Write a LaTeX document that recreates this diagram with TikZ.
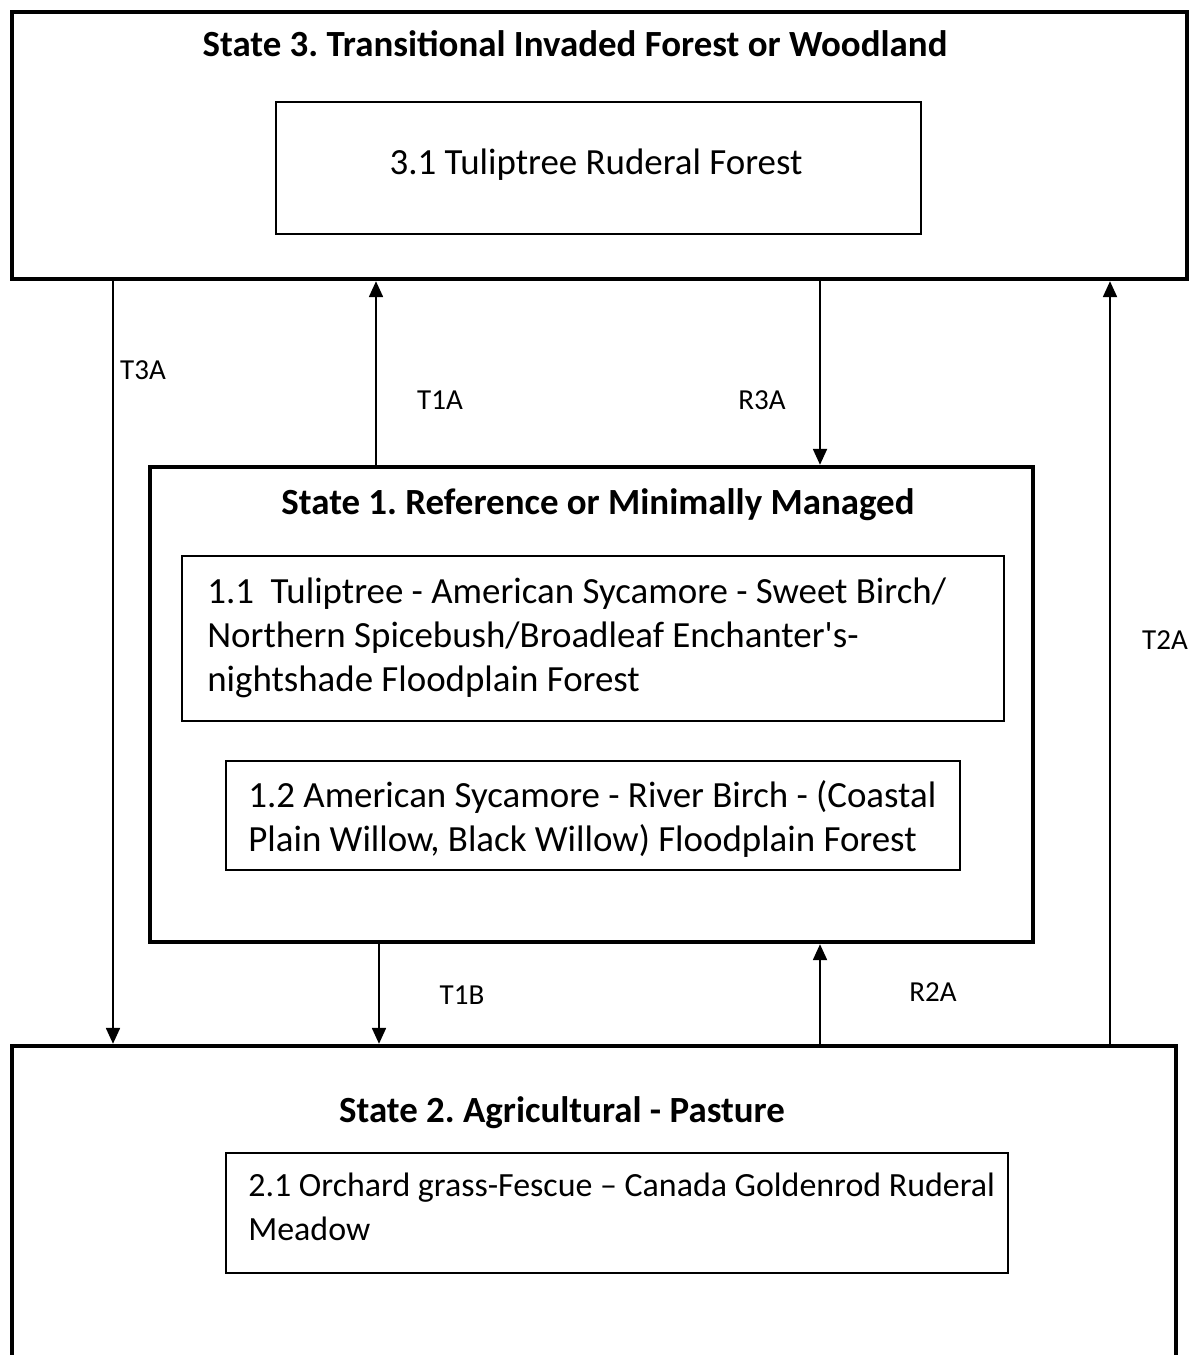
\documentclass[tikz,border=0pt]{standalone}
\usepackage{fontspec}
\setmainfont{Carlito}
\usetikzlibrary{arrows.meta}
\frenchspacing
\begin{document}
\begin{tikzpicture}[x=0.02cm,y=-0.02cm]

    \tikzset{
      statebox/.style={
        draw,
        line width=2.6pt,
        inner sep=0pt,
      },
      phasebox/.style={
        draw,
        line width=0.9pt,
        inner sep=0pt,
      },
      boxtitle/.style={font=\fontsize{21}{25}\selectfont\bfseries},
      boxtext/.style={font=\fontsize{21}{25}\selectfont, align=left, inner sep=0pt},
      pathlabel/.style={font=\fontsize{16.5}{19}\selectfont},
      trans/.style={line width=0.9pt, -{Triangle[length=9pt,width=8pt]}},
    }
    \useasboundingbox (0,0) rectangle (1192,1355);

    % state 3
    \node[statebox, minimum width=23.5cm, minimum height=5.34cm] (s3) at (599.5,145.5) {};
    \node[boxtitle] (s3title) at (575,44) {State 3. Transitional Invaded Forest or Woodland};
    \node[phasebox, minimum width=12.9cm, minimum height=2.64cm] (p31) at (598.5,168) {};
    \node[boxtext] (p31text) at (596,165) {3.1 Tuliptree Ruderal Forest};

    % state 1
    \node[statebox, minimum width=17.66cm, minimum height=9.5cm] (s1) at (591.5,704.5) {};
    \node[boxtitle] (s1title) at (598,505) {State 1. Reference or Minimally Managed};
    \node[phasebox, minimum width=16.44cm, minimum height=3.3cm] (p11) at (593,638.5) {};
    \node[boxtext, anchor=west] (p11text) at (207,638) {1.1\ \ Tuliptree - American Sycamore - Sweet Birch/\\Northern Spicebush/Broadleaf Enchanter\textquotesingle s-\\nightshade Floodplain Forest};
    \node[phasebox, minimum width=14.68cm, minimum height=2.18cm] (p12) at (593,815.5) {};
    \node[boxtext, anchor=west] (p12text) at (248,819) {1.2 American Sycamore - River Birch - (Coastal\\Plain Willow, Black Willow) Floodplain Forest};

    % state 2
    \node[statebox, minimum width=23.28cm, minimum height=7.48cm] (s2) at (594,1233) {};
    \node[boxtitle] (s2title) at (562,1113) {State 2. Agricultural - Pasture};
    \node[phasebox, minimum width=15.64cm, minimum height=2.4cm] (p21) at (617,1213) {};
    \node[boxtext, anchor=west, font=\fontsize{19.3}{25}\selectfont] (p21text) at (248,1207) {2.1 Orchard grass-Fescue -- Canada Goldenrod Ruderal\\Meadow};

    % transitions
    \coordinate (xt3a) at (113,0);
    \coordinate (xt1a) at (376,0);
    \coordinate (xr3a) at (820,0);
    \coordinate (xt2a) at (1110,0);
    \coordinate (xt1b) at (379,0);
    \coordinate (xr2a) at (820,0);

    \draw[trans] (s3.south -| xt3a) -- (s2.north -| xt3a);
    \draw[trans] (s1.north -| xt1a) -- (s3.south -| xt1a);
    \draw[trans] (s3.south -| xr3a) -- (s1.north -| xr3a);
    \draw[trans] (s2.north -| xt2a) -- (s3.south -| xt2a);
    \draw[trans] (s1.south -| xt1b) -- (s2.north -| xt1b);
    \draw[trans] (s2.north -| xr2a) -- (s1.south -| xr2a);

    \node[pathlabel] (lt3a) at (143,370) {T3A};
    \node[pathlabel] (lt1a) at (440,400) {T1A};
    \node[pathlabel] (lr3a) at (762,400) {R3A};
    \node[pathlabel] (lt2a) at (1165,640) {T2A};
    \node[pathlabel] (lt1b) at (462,995) {T1B};
    \node[pathlabel] (lr2a) at (933,992) {R2A};

\end{tikzpicture}
\end{document}
